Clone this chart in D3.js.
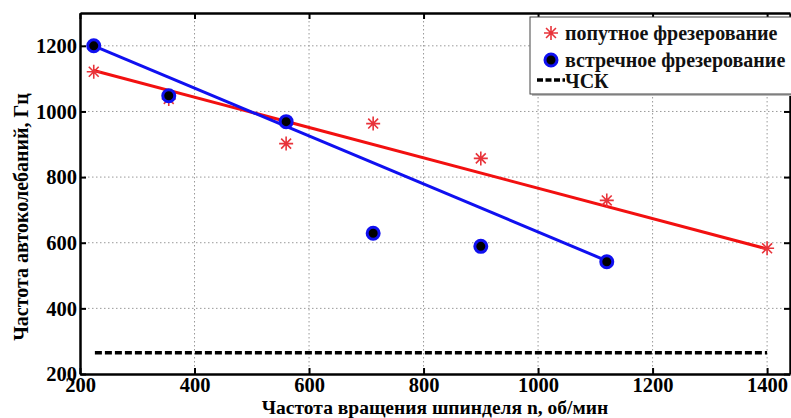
<!DOCTYPE html>
<html><head><meta charset="utf-8">
<script src="https://cdn.jsdelivr.net/npm/d3@7"></script>
<style>
html,body{margin:0;padding:0;background:#fff;}
svg{display:block;}
text{font-family:"Liberation Serif","Times New Roman",serif;}
</style></head>
<body>
<svg id="chart" width="791" height="418"></svg>
<script>
// ---- data ----
const climbX = [224, 355, 560, 712, 900, 1120, 1400];
const climbY = [1121, 1038, 902, 963, 857, 729, 583];
const upX = [224, 355, 560, 712, 900, 1120];
const upY = [1200, 1048, 969, 629, 589, 542];
const climbFitX = [224, 1400];
const climbFitY = [1125, 581];
const upFitX = [224, 1120];
const upFitY = [1200, 545];
const cskX = [226, 1400];
const cskY = [265, 265];
const xTicks = [200, 400, 600, 800, 1000, 1200, 1400];
const yTicks = [200, 400, 600, 800, 1000, 1200];
const legendLabels = ["попутное фрезерование", "встречное фрезерование", "ЧСК"];
const xTitle = "Частота вращения шпинделя n, об/мин";
const yTitle = "Частота автоколебаний, Гц";

// ---- layout ----
const svg = d3.select("#chart");
const L = 80, R = 790, T = 13, B = 374;
const x = d3.scaleLinear().domain([200, 1440]).range([L, R]);
const y = d3.scaleLinear().domain([200, 1300]).range([B, T]);

// grid
const g = svg.append("g");
g.selectAll(".gx").data(xTicks.filter(d => d > 200)).enter().append("line")
  .attr("x1", d => x(d)).attr("x2", d => x(d)).attr("y1", T).attr("y2", B)
  .attr("stroke", "#999").attr("stroke-width", 1).attr("stroke-dasharray", "1.5,2.5");
g.selectAll(".gy").data(yTicks.filter(d => d > 200)).enter().append("line")
  .attr("x1", L).attr("x2", R).attr("y1", d => y(d)).attr("y2", d => y(d))
  .attr("stroke", "#999").attr("stroke-width", 1).attr("stroke-dasharray", "1.5,2.5");

// axes
const tickFont = "20.5px";
const xAxis = d3.axisBottom(x).tickValues(xTicks).tickSizeInner(-6).tickSizeOuter(0).tickPadding(4).tickFormat(d3.format("d"));
const yAxis = d3.axisLeft(y).tickValues(yTicks).tickSizeInner(-6).tickSizeOuter(0).tickPadding(3).tickFormat(d3.format("d"));
const gx = svg.append("g").attr("transform", `translate(0,${B})`).call(xAxis);
const gy = svg.append("g").attr("transform", `translate(${L},0)`).call(yAxis);
const gxTop = svg.append("g").attr("transform", `translate(0,${T})`).call(d3.axisTop(x).tickValues(xTicks).tickSizeInner(-6).tickSizeOuter(0).tickFormat(""));
const gyR = svg.append("g").attr("transform", `translate(${R},0)`).call(d3.axisRight(y).tickValues(yTicks).tickSizeInner(-6).tickSizeOuter(0).tickFormat(""));
[gx, gy, gxTop, gyR].forEach(a => {
  a.select(".domain").attr("stroke", "#000").attr("stroke-width", 2.5);
  a.selectAll(".tick line").attr("stroke", "#000").attr("stroke-width", 2);
  a.selectAll(".tick text").attr("fill", "#000").style("font-size", tickFont)
    .style("font-family", '"Liberation Serif",serif').style("font-weight", "bold");
});
gx.selectAll(".tick text").attr("dy", "0.66em");
gy.selectAll(".tick text").attr("dy", "0.33em");

// fit lines
const line = d3.line().x(d => x(d[0])).y(d => y(d[1]));
svg.append("path").datum(climbFitX.map((v, i) => [v, climbFitY[i]]))
  .attr("d", line).attr("stroke", "#f21010").attr("stroke-width", 3).attr("fill", "none");
svg.append("path").datum(upFitX.map((v, i) => [v, upFitY[i]]))
  .attr("d", line).attr("stroke", "#1010f0").attr("stroke-width", 3).attr("fill", "none");
svg.append("path").datum(cskX.map((v, i) => [v, cskY[i]]))
  .attr("d", line).attr("stroke", "#000").attr("stroke-width", 3.5)
  .attr("stroke-dasharray", "7,3").attr("fill", "none");

// markers
function star(sel, r) {
  const a = r * Math.SQRT1_2;
  sel.append("path")
    .attr("d", `M${-r},0L${r},0M0,${-r}L0,${r}M${-a},${-a}L${a},${a}M${-a},${a}L${a},${-a}`)
    .attr("stroke", "#e8333a").attr("stroke-width", 1.6).attr("fill", "none");
}
svg.selectAll(".st").data(climbX.map((v, i) => [v, climbY[i]])).enter().append("g")
  .attr("transform", d => `translate(${x(d[0])},${y(d[1])})`).call(star, 7);
svg.selectAll(".ci").data(upX.map((v, i) => [v, upY[i]])).enter().append("circle")
  .attr("cx", d => x(d[0])).attr("cy", d => y(d[1])).attr("r", 6)
  .attr("fill", "#000").attr("stroke", "#1010f0").attr("stroke-width", 3);

// legend
const lg = svg.append("g");
lg.append("rect").attr("x", 532).attr("y", 19).attr("width", 270).attr("height", 77).attr("fill", "#bbb");
lg.append("rect").attr("x", 530).attr("y", 17).attr("width", 270).attr("height", 77)
  .attr("fill", "#fff").attr("stroke", "#444").attr("stroke-width", 1);
lg.append("g").attr("transform", "translate(551,33)").call(star, 7);
lg.append("circle").attr("cx", 551).attr("cy", 60).attr("r", 6).attr("fill", "#000").attr("stroke", "#1010f0").attr("stroke-width", 3);
lg.append("line").attr("x1", 537).attr("x2", 565).attr("y1", 80).attr("y2", 80)
  .attr("stroke", "#000").attr("stroke-width", 3.5).attr("stroke-dasharray", "6,2.5");
lg.selectAll(".lt").data(legendLabels).enter().append("text")
  .attr("x", 565).attr("y", (d, i) => [33, 60, 81][i]).attr("dy", "0.33em")
  .style("font-size", "20px").style("font-weight", "bold").attr("fill", "#111").text(d => d);

// titles
svg.append("text").attr("x", (L + R) / 2).attr("y", 414).attr("text-anchor", "middle")
  .style("font-size", "19.5px").style("font-weight", "bold").text(xTitle);
svg.append("text").attr("transform", `translate(28,217) rotate(-90)`).attr("text-anchor", "middle")
  .style("font-size", "20px").style("font-weight", "bold").text(yTitle);
</script>
</body></html>
